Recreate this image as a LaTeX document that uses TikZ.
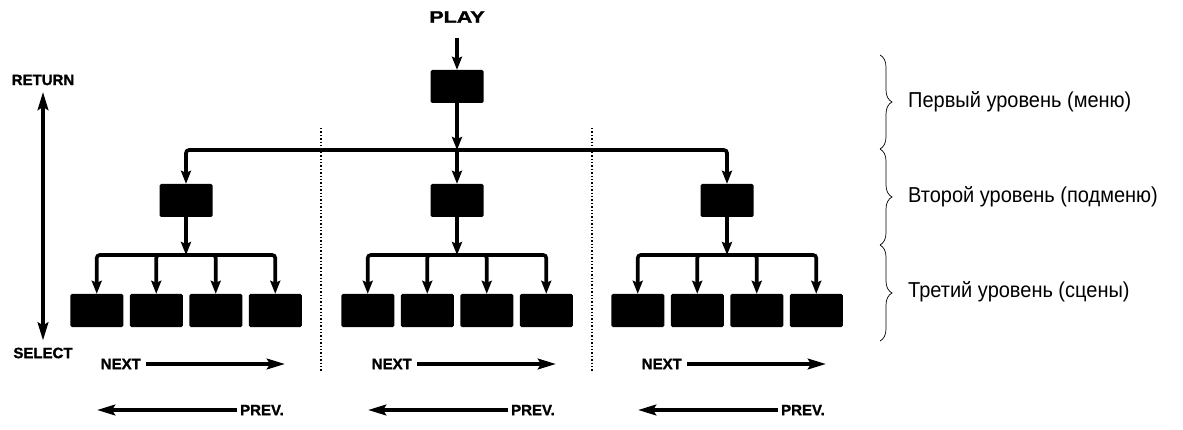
\documentclass[tikz,border=0pt]{standalone}
\usepackage{fontspec}
\setmainfont{Liberation Sans}
\newfontfamily\heavyfont[FakeBold=1.3]{Liberation Sans Bold}
\usetikzlibrary{arrows.meta,decorations.pathreplacing}
\begin{document}
\begin{tikzpicture}[x=1pt,y=-1pt,
  blk/.style={draw=none,fill=black,rounded corners=1.5pt,minimum width=53pt,minimum height=33pt,inner sep=0pt},
  conn/.style={line width=3.6pt,-{Stealth[length=13pt,width=10pt,inset=2pt]},rounded corners=3pt},
  longarr/.style={line width=4pt,-{Stealth[length=18pt,width=10.5pt,inset=3pt]}},
  lbl/.style={font=\heavyfont\fontsize{15}{15}\selectfont,inner sep=0pt},
  lvl/.style={font=\fontsize{20}{20}\selectfont,inner sep=0pt,anchor=west,yscale=1.08},
  sep/.style={dotted,line width=1.4pt},
  br/.style={decorate,decoration={brace,amplitude=12pt},line width=0.7pt}
]
\useasboundingbox (0,0) rectangle (1183,430);
% top
\node[font=\heavyfont\fontsize{16.5}{16.5}\selectfont,inner sep=0pt,xscale=1.3] (play) at (457,17) {PLAY};
\node[blk] (top) at (457,86.5) {};
\coordinate (j) at (457,150);
\draw[conn] ([yshift=-15pt]play.south) -- (top.north);
\draw[conn] (top.south) -- (j);
% groups
\foreach \g/\cx in {a/186,b/457,c/727}{
  \node[blk] (\g2) at (\cx,200.5) {};
  \coordinate (\g j) at (\cx,255);
  \foreach \i/\dx in {1/-89.25,2/-29.75,3/29.75,4/89.25}{
    \node[blk] (\g3\i) at (\cx+\dx,310.5) {};
  }
  \draw[conn] (\g2.south) -- (\g j);
  \foreach \i in {1,2,3,4}{
    \draw[conn] (\g j) -| (\g3\i.north);
  }
  % next / prev
  \node[lbl,anchor=east] (\g n) at (\cx-45,364) {NEXT};
  \coordinate (\g ne) at (\cx+99,364);
  \draw[longarr] ([xshift=5pt]\g n.east) -- (\g ne);
  \node[lbl,anchor=west] (\g p) at (\cx+54,410) {PREV.};
  \coordinate (\g pe) at (\cx-89,410);
  \draw[longarr] ([xshift=-3pt]\g p.west) -- (\g pe);
}
\draw[conn] (j) -| (a2.north);
\draw[conn] (j) -| (c2.north);
\draw[conn] (j) -- (b2.north);
% separators
\coordinate (s1t) at (321,128); \coordinate (s1b) at (321,372);
\coordinate (s2t) at (592,128); \coordinate (s2b) at (592,372);
\draw[sep] (s1t) -- (s1b);
\draw[sep] (s2t) -- (s2b);
% return / select
\node[lbl] (ret) at (43,80) {RETURN};
\node[lbl] (sel) at (43,353) {SELECT};
\draw[longarr,{Stealth[length=18pt,width=10.5pt,inset=3pt]}-{Stealth[length=18pt,width=10.5pt,inset=3pt]}] ([yshift=-6.5pt]ret.south) -- ([yshift=7pt]sel.north);
% braces
\coordinate (b0) at (880,55);
\coordinate (b1) at (880,149);
\coordinate (b2) at (880,245);
\coordinate (b3) at (880,341);
\draw[br] (b0) -- (b1);
\draw[br] (b1) -- (b2);
\draw[br] (b2) -- (b3);
\node[lvl] (t1) at (908,102) {Первый уровень (меню)};
\node[lvl] (t2) at (908,197) {Второй уровень (подменю)};
\node[lvl] (t3) at (908,292) {Третий уровень (сцены)};
\end{tikzpicture}
\end{document}
